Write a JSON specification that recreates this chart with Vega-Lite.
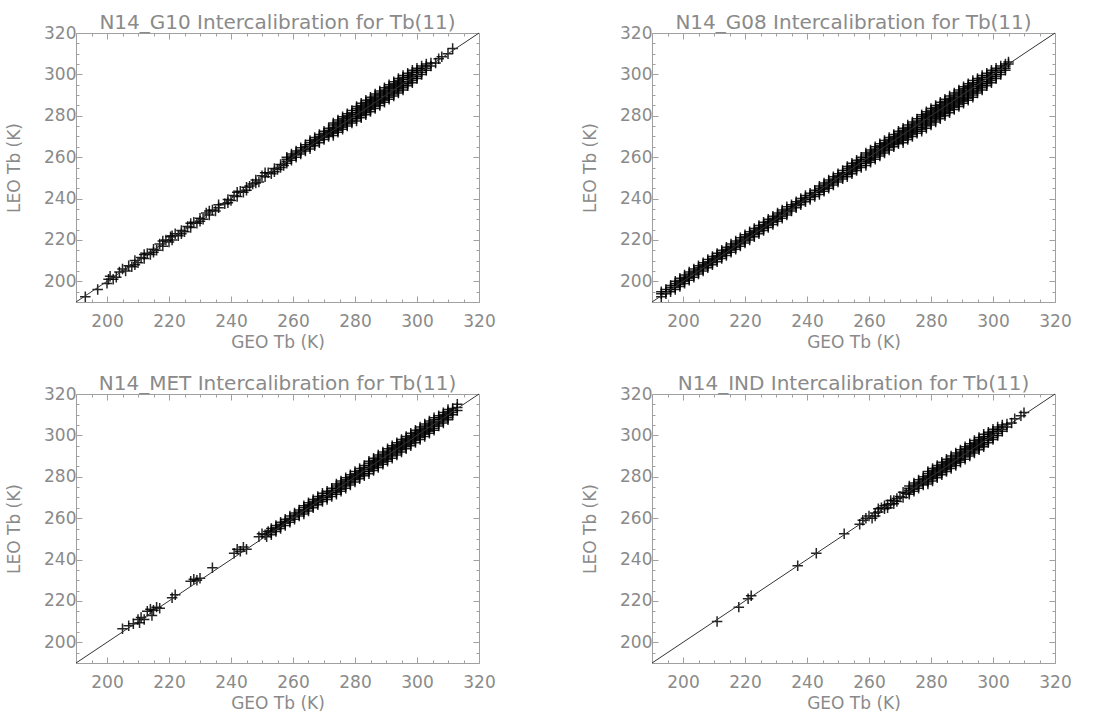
{
"$schema": "https://vega.github.io/schema/vega-lite/v6.json",
"padding": {"left": 5, "top": 13, "right": 5, "bottom": 5},
"background": "white",
"columns": 2,
"bounds": "flush",
"spacing": {"row": 92, "column": 173},
"config": {
  "view": {"stroke": null},
  "font": "DejaVu Sans",
  "title": {"fontSize": 20, "font": "DejaVu Sans", "fontWeight": "normal", "color": "#8a8a8a", "offset": -9, "anchor": "middle"},
  "axis": {"grid": false, "domainColor": "#a0a0a0", "tickColor": "#a0a0a0", "labelColor": "#8a8a8a", "titleColor": "#8a8a8a", "labelFont": "DejaVu Sans", "titleFont": "DejaVu Sans", "labelFontSize": 17, "titleFontSize": 17, "titleFontWeight": "normal", "labelOverlap": false, "labelFlush": false}
},
"datasets": {
"diag": [{"v": 190}, {"v": 320}],
"g10": [
{"geo":193,"leo":192.5},{"geo":197,"leo":196},{"geo":200,"leo":199},{"geo":200.5,"leo":201},{"geo":202,"leo":201},{"geo":204,"leo":204.5},{"geo":206,"leo":205},{"geo":207,"leo":207.5},{"geo":208,"leo":207},{"geo":209,"leo":210},{"geo":210,"leo":209},{"geo":211,"leo":211.5},{"geo":212,"leo":211},{"geo":213,"leo":213.5},{"geo":214,"leo":213},{"geo":215,"leo":215.5},{"geo":216,"leo":215},{"geo":217,"leo":218},{"geo":218,"leo":217},{"geo":219,"leo":220},{"geo":220,"leo":219},{"geo":220.5,"leo":221.5},{"geo":221,"leo":220},{"geo":222,"leo":223},{"geo":223,"leo":222},{"geo":224,"leo":224.5},{"geo":225,"leo":224},{"geo":226,"leo":226.5},{"geo":227,"leo":226},{"geo":228,"leo":228.5},{"geo":229,"leo":228},{"geo":230,"leo":230.5},{"geo":231,"leo":230},{"geo":232,"leo":233},{"geo":233,"leo":232},{"geo":234,"leo":234.5},{"geo":235,"leo":234},{"geo":236,"leo":237},{"geo":238,"leo":237.5},{"geo":239,"leo":239.5},{"geo":240,"leo":239},{"geo":241,"leo":241.5},{"geo":242,"leo":241},{"geo":243,"leo":243.5},{"geo":244,"leo":243},{"geo":245,"leo":245.5},{"geo":246,"leo":246},{"geo":247,"leo":247},{"geo":248,"leo":249},{"geo":249,"leo":248},{"geo":250,"leo":251},{"geo":251,"leo":250.5},{"geo":252,"leo":252.5},{"geo":253,"leo":252},{"geo":254,"leo":254.5},{"geo":255,"leo":254},{"geo":256,"leo":256.5},{"geo":257,"leo":256},
{"geo":201,"leo":202.5},{"geo":203,"leo":202},{"geo":205,"leo":206},{"geo":209,"leo":208},{"geo":212,"leo":213},{"geo":215,"leo":214},{"geo":218,"leo":219.5},{"geo":221,"leo":222},{"geo":224,"leo":223},{"geo":227,"leo":228},{"geo":230,"leo":229},{"geo":233,"leo":234},{"geo":236,"leo":235.5},{"geo":239,"leo":238},{"geo":242,"leo":243},{"geo":245,"leo":244},{"geo":248,"leo":247.5},{"geo":251,"leo":252.5},{"geo":254,"leo":253},{"geo":256,"leo":255},
{"geo":258,"leo":257},{"geo":258,"leo":258},{"geo":258,"leo":259},{"geo":258,"leo":260},
{"geo":259.5,"leo":258.5},{"geo":259.5,"leo":259.5},{"geo":259.5,"leo":260.5},{"geo":259.5,"leo":261.5},
{"geo":261,"leo":260},{"geo":261,"leo":261},{"geo":261,"leo":262},{"geo":261,"leo":263},
{"geo":262.5,"leo":261.5},{"geo":262.5,"leo":262.5},{"geo":262.5,"leo":263.5},{"geo":262.5,"leo":264.5},
{"geo":264,"leo":263},{"geo":264,"leo":264},{"geo":264,"leo":265},{"geo":264,"leo":266},
{"geo":265.5,"leo":264},{"geo":265.5,"leo":265},{"geo":265.5,"leo":266},{"geo":265.5,"leo":267},{"geo":265.5,"leo":268},
{"geo":267,"leo":265.5},{"geo":267,"leo":266.5},{"geo":267,"leo":267.5},{"geo":267,"leo":268.5},{"geo":267,"leo":269.5},
{"geo":268.5,"leo":267},{"geo":268.5,"leo":268},{"geo":268.5,"leo":269},{"geo":268.5,"leo":270},{"geo":268.5,"leo":271},
{"geo":270,"leo":268.5},{"geo":270,"leo":269.5},{"geo":270,"leo":270.5},{"geo":270,"leo":271.5},{"geo":270,"leo":272.5},
{"geo":271.5,"leo":270},{"geo":271.5,"leo":271},{"geo":271.5,"leo":272},{"geo":271.5,"leo":273},{"geo":271.5,"leo":274},
{"geo":273,"leo":270.5},{"geo":273,"leo":271.5},{"geo":273,"leo":272.5},{"geo":273,"leo":273.5},{"geo":273,"leo":274.5},{"geo":273,"leo":275.5},{"geo":273,"leo":276.5},
{"geo":274.5,"leo":272},{"geo":274.5,"leo":273},{"geo":274.5,"leo":274},{"geo":274.5,"leo":275},{"geo":274.5,"leo":276},{"geo":274.5,"leo":277},{"geo":274.5,"leo":278},
{"geo":276,"leo":273.5},{"geo":276,"leo":274.5},{"geo":276,"leo":275.5},{"geo":276,"leo":276.5},{"geo":276,"leo":277.5},{"geo":276,"leo":278.5},{"geo":276,"leo":279.5},
{"geo":277.5,"leo":275},{"geo":277.5,"leo":276},{"geo":277.5,"leo":277},{"geo":277.5,"leo":278},{"geo":277.5,"leo":279},{"geo":277.5,"leo":280},{"geo":277.5,"leo":281},
{"geo":279,"leo":276.5},{"geo":279,"leo":277.5},{"geo":279,"leo":278.5},{"geo":279,"leo":279.5},{"geo":279,"leo":280.5},{"geo":279,"leo":281.5},{"geo":279,"leo":282.5},
{"geo":280.5,"leo":277.5},{"geo":280.5,"leo":278.5},{"geo":280.5,"leo":279.5},{"geo":280.5,"leo":280.5},{"geo":280.5,"leo":281.5},{"geo":280.5,"leo":282.5},{"geo":280.5,"leo":283.5},{"geo":280.5,"leo":284.5},
{"geo":282,"leo":279},{"geo":282,"leo":280},{"geo":282,"leo":281},{"geo":282,"leo":282},{"geo":282,"leo":283},{"geo":282,"leo":284},{"geo":282,"leo":285},{"geo":282,"leo":286},
{"geo":283.5,"leo":280.5},{"geo":283.5,"leo":281.5},{"geo":283.5,"leo":282.5},{"geo":283.5,"leo":283.5},{"geo":283.5,"leo":284.5},{"geo":283.5,"leo":285.5},{"geo":283.5,"leo":286.5},{"geo":283.5,"leo":287.5},
{"geo":285,"leo":282},{"geo":285,"leo":283},{"geo":285,"leo":284},{"geo":285,"leo":285},{"geo":285,"leo":286},{"geo":285,"leo":287},{"geo":285,"leo":288},{"geo":285,"leo":289},
{"geo":286.5,"leo":283.5},{"geo":286.5,"leo":284.5},{"geo":286.5,"leo":285.5},{"geo":286.5,"leo":286.5},{"geo":286.5,"leo":287.5},{"geo":286.5,"leo":288.5},{"geo":286.5,"leo":289.5},{"geo":286.5,"leo":290.5},
{"geo":288,"leo":285},{"geo":288,"leo":286},{"geo":288,"leo":287},{"geo":288,"leo":288},{"geo":288,"leo":289},{"geo":288,"leo":290},{"geo":288,"leo":291},{"geo":288,"leo":292},
{"geo":289.5,"leo":286.5},{"geo":289.5,"leo":287.5},{"geo":289.5,"leo":288.5},{"geo":289.5,"leo":289.5},{"geo":289.5,"leo":290.5},{"geo":289.5,"leo":291.5},{"geo":289.5,"leo":292.5},{"geo":289.5,"leo":293.5},
{"geo":291,"leo":288},{"geo":291,"leo":289},{"geo":291,"leo":290},{"geo":291,"leo":291},{"geo":291,"leo":292},{"geo":291,"leo":293},{"geo":291,"leo":294},{"geo":291,"leo":295},
{"geo":292.5,"leo":289.5},{"geo":292.5,"leo":290.5},{"geo":292.5,"leo":291.5},{"geo":292.5,"leo":292.5},{"geo":292.5,"leo":293.5},{"geo":292.5,"leo":294.5},{"geo":292.5,"leo":295.5},{"geo":292.5,"leo":296.5},
{"geo":294,"leo":291},{"geo":294,"leo":292},{"geo":294,"leo":293},{"geo":294,"leo":294},{"geo":294,"leo":295},{"geo":294,"leo":296},{"geo":294,"leo":297},{"geo":294,"leo":298},
{"geo":295.5,"leo":292.5},{"geo":295.5,"leo":293.5},{"geo":295.5,"leo":294.5},{"geo":295.5,"leo":295.5},{"geo":295.5,"leo":296.5},{"geo":295.5,"leo":297.5},{"geo":295.5,"leo":298.5},{"geo":295.5,"leo":299.5},
{"geo":297,"leo":294.5},{"geo":297,"leo":295.5},{"geo":297,"leo":296.5},{"geo":297,"leo":297.5},{"geo":297,"leo":298.5},{"geo":297,"leo":299.5},{"geo":297,"leo":300.5},
{"geo":298.5,"leo":296},{"geo":298.5,"leo":297},{"geo":298.5,"leo":298},{"geo":298.5,"leo":299},{"geo":298.5,"leo":300},{"geo":298.5,"leo":301},{"geo":298.5,"leo":302},
{"geo":300,"leo":298},{"geo":300,"leo":299},{"geo":300,"leo":300},{"geo":300,"leo":301},{"geo":300,"leo":302},{"geo":300,"leo":303},
{"geo":301.5,"leo":300},{"geo":301.5,"leo":301},{"geo":301.5,"leo":302},{"geo":301.5,"leo":303},{"geo":301.5,"leo":304},
{"geo":303,"leo":302},{"geo":303,"leo":303},{"geo":303,"leo":304},{"geo":303,"leo":305},
{"geo":304.5,"leo":304},{"geo":304.5,"leo":305.5},
{"geo":306,"leo":305.5},{"geo":307,"leo":307.5},{"geo":308,"leo":308.5},{"geo":310,"leo":310},{"geo":311.5,"leo":312.5}
],
"g08": [
{"geo":193,"leo":192.5},{"geo":193,"leo":194},{"geo":193,"leo":195},
{"geo":194.5,"leo":194},{"geo":194.5,"leo":195},{"geo":194.5,"leo":196},
{"geo":196,"leo":195},{"geo":196,"leo":196},{"geo":196,"leo":197},{"geo":196,"leo":198},
{"geo":197.5,"leo":196},{"geo":197.5,"leo":197},{"geo":197.5,"leo":198},{"geo":197.5,"leo":199},{"geo":197.5,"leo":200},
{"geo":199,"leo":197.5},{"geo":199,"leo":198.5},{"geo":199,"leo":199.5},{"geo":199,"leo":200.5},{"geo":199,"leo":201.5},
{"geo":200.5,"leo":199},{"geo":200.5,"leo":200},{"geo":200.5,"leo":201},{"geo":200.5,"leo":202},{"geo":200.5,"leo":203},
{"geo":202,"leo":200.5},{"geo":202,"leo":201.5},{"geo":202,"leo":202.5},{"geo":202,"leo":203.5},{"geo":202,"leo":204.5},
{"geo":203.5,"leo":202},{"geo":203.5,"leo":203},{"geo":203.5,"leo":204},{"geo":203.5,"leo":205},{"geo":203.5,"leo":206},
{"geo":205,"leo":203.5},{"geo":205,"leo":204.5},{"geo":205,"leo":205.5},{"geo":205,"leo":206.5},{"geo":205,"leo":207.5},
{"geo":206.5,"leo":205},{"geo":206.5,"leo":206},{"geo":206.5,"leo":207},{"geo":206.5,"leo":208},{"geo":206.5,"leo":209},
{"geo":208,"leo":206.5},{"geo":208,"leo":207.5},{"geo":208,"leo":208.5},{"geo":208,"leo":209.5},{"geo":208,"leo":210.5},
{"geo":209.5,"leo":208},{"geo":209.5,"leo":209},{"geo":209.5,"leo":210},{"geo":209.5,"leo":211},{"geo":209.5,"leo":212},
{"geo":211,"leo":209.5},{"geo":211,"leo":210.5},{"geo":211,"leo":211.5},{"geo":211,"leo":212.5},{"geo":211,"leo":213.5},
{"geo":212.5,"leo":211},{"geo":212.5,"leo":212},{"geo":212.5,"leo":213},{"geo":212.5,"leo":214},{"geo":212.5,"leo":215},
{"geo":214,"leo":212.5},{"geo":214,"leo":213.5},{"geo":214,"leo":214.5},{"geo":214,"leo":215.5},{"geo":214,"leo":216.5},
{"geo":215.5,"leo":214},{"geo":215.5,"leo":215},{"geo":215.5,"leo":216},{"geo":215.5,"leo":217},{"geo":215.5,"leo":218},
{"geo":217,"leo":215.5},{"geo":217,"leo":216.5},{"geo":217,"leo":217.5},{"geo":217,"leo":218.5},{"geo":217,"leo":219.5},
{"geo":218.5,"leo":217},{"geo":218.5,"leo":218},{"geo":218.5,"leo":219},{"geo":218.5,"leo":220},{"geo":218.5,"leo":221},
{"geo":220,"leo":218.5},{"geo":220,"leo":219.5},{"geo":220,"leo":220.5},{"geo":220,"leo":221.5},{"geo":220,"leo":222.5},
{"geo":221.5,"leo":220},{"geo":221.5,"leo":221},{"geo":221.5,"leo":222},{"geo":221.5,"leo":223},{"geo":221.5,"leo":224},
{"geo":223,"leo":221.5},{"geo":223,"leo":222.5},{"geo":223,"leo":223.5},{"geo":223,"leo":224.5},{"geo":223,"leo":225.5},
{"geo":224.5,"leo":223},{"geo":224.5,"leo":224},{"geo":224.5,"leo":225},{"geo":224.5,"leo":226},{"geo":224.5,"leo":227},
{"geo":226,"leo":224.5},{"geo":226,"leo":225.5},{"geo":226,"leo":226.5},{"geo":226,"leo":227.5},{"geo":226,"leo":228.5},
{"geo":227.5,"leo":226},{"geo":227.5,"leo":227},{"geo":227.5,"leo":228},{"geo":227.5,"leo":229},{"geo":227.5,"leo":230},
{"geo":229,"leo":227.5},{"geo":229,"leo":228.5},{"geo":229,"leo":229.5},{"geo":229,"leo":230.5},{"geo":229,"leo":231.5},
{"geo":230.5,"leo":229},{"geo":230.5,"leo":230},{"geo":230.5,"leo":231},{"geo":230.5,"leo":232},{"geo":230.5,"leo":233},
{"geo":232,"leo":230.5},{"geo":232,"leo":231.5},{"geo":232,"leo":232.5},{"geo":232,"leo":233.5},{"geo":232,"leo":234.5},
{"geo":233.5,"leo":232},{"geo":233.5,"leo":233},{"geo":233.5,"leo":234},{"geo":233.5,"leo":235},{"geo":233.5,"leo":236},
{"geo":235,"leo":234},{"geo":235,"leo":235},{"geo":235,"leo":236},{"geo":235,"leo":237},
{"geo":236.5,"leo":235.5},{"geo":236.5,"leo":236.5},{"geo":236.5,"leo":237.5},{"geo":236.5,"leo":238.5},
{"geo":238,"leo":237},{"geo":238,"leo":238},{"geo":238,"leo":239},{"geo":238,"leo":240},
{"geo":239.5,"leo":238.5},{"geo":239.5,"leo":239.5},{"geo":239.5,"leo":240.5},{"geo":239.5,"leo":241.5},
{"geo":241,"leo":239.5},{"geo":241,"leo":240.5},{"geo":241,"leo":241.5},{"geo":241,"leo":242.5},
{"geo":242.5,"leo":241},{"geo":242.5,"leo":242},{"geo":242.5,"leo":243},{"geo":242.5,"leo":244},
{"geo":244,"leo":242},{"geo":244,"leo":243},{"geo":244,"leo":244},{"geo":244,"leo":245},{"geo":244,"leo":246},
{"geo":245.5,"leo":243.5},{"geo":245.5,"leo":244.5},{"geo":245.5,"leo":245.5},{"geo":245.5,"leo":246.5},{"geo":245.5,"leo":247.5},
{"geo":247,"leo":245},{"geo":247,"leo":246},{"geo":247,"leo":247},{"geo":247,"leo":248},{"geo":247,"leo":249},
{"geo":248.5,"leo":246.5},{"geo":248.5,"leo":247.5},{"geo":248.5,"leo":248.5},{"geo":248.5,"leo":249.5},{"geo":248.5,"leo":250.5},
{"geo":250,"leo":248},{"geo":250,"leo":249},{"geo":250,"leo":250},{"geo":250,"leo":251},{"geo":250,"leo":252},
{"geo":251.5,"leo":249.5},{"geo":251.5,"leo":250.5},{"geo":251.5,"leo":251.5},{"geo":251.5,"leo":252.5},{"geo":251.5,"leo":253.5},
{"geo":253,"leo":250.5},{"geo":253,"leo":251.5},{"geo":253,"leo":252.5},{"geo":253,"leo":253.5},{"geo":253,"leo":254.5},{"geo":253,"leo":255.5},
{"geo":254.5,"leo":252},{"geo":254.5,"leo":253},{"geo":254.5,"leo":254},{"geo":254.5,"leo":255},{"geo":254.5,"leo":256},{"geo":254.5,"leo":257},
{"geo":256,"leo":253.5},{"geo":256,"leo":254.5},{"geo":256,"leo":255.5},{"geo":256,"leo":256.5},{"geo":256,"leo":257.5},{"geo":256,"leo":258.5},
{"geo":257.5,"leo":255},{"geo":257.5,"leo":256},{"geo":257.5,"leo":257},{"geo":257.5,"leo":258},{"geo":257.5,"leo":259},{"geo":257.5,"leo":260},
{"geo":259,"leo":256},{"geo":259,"leo":257},{"geo":259,"leo":258},{"geo":259,"leo":259},{"geo":259,"leo":260},{"geo":259,"leo":261},{"geo":259,"leo":262},
{"geo":260.5,"leo":257.5},{"geo":260.5,"leo":258.5},{"geo":260.5,"leo":259.5},{"geo":260.5,"leo":260.5},{"geo":260.5,"leo":261.5},{"geo":260.5,"leo":262.5},{"geo":260.5,"leo":263.5},
{"geo":262,"leo":259},{"geo":262,"leo":260},{"geo":262,"leo":261},{"geo":262,"leo":262},{"geo":262,"leo":263},{"geo":262,"leo":264},{"geo":262,"leo":265},
{"geo":263.5,"leo":260.5},{"geo":263.5,"leo":261.5},{"geo":263.5,"leo":262.5},{"geo":263.5,"leo":263.5},{"geo":263.5,"leo":264.5},{"geo":263.5,"leo":265.5},{"geo":263.5,"leo":266.5},
{"geo":265,"leo":262},{"geo":265,"leo":263},{"geo":265,"leo":264},{"geo":265,"leo":265},{"geo":265,"leo":266},{"geo":265,"leo":267},{"geo":265,"leo":268},
{"geo":266.5,"leo":263.5},{"geo":266.5,"leo":264.5},{"geo":266.5,"leo":265.5},{"geo":266.5,"leo":266.5},{"geo":266.5,"leo":267.5},{"geo":266.5,"leo":268.5},{"geo":266.5,"leo":269.5},
{"geo":268,"leo":265},{"geo":268,"leo":266},{"geo":268,"leo":267},{"geo":268,"leo":268},{"geo":268,"leo":269},{"geo":268,"leo":270},{"geo":268,"leo":271},
{"geo":269.5,"leo":266.5},{"geo":269.5,"leo":267.5},{"geo":269.5,"leo":268.5},{"geo":269.5,"leo":269.5},{"geo":269.5,"leo":270.5},{"geo":269.5,"leo":271.5},{"geo":269.5,"leo":272.5},
{"geo":271,"leo":267},{"geo":271,"leo":268},{"geo":271,"leo":269},{"geo":271,"leo":270},{"geo":271,"leo":271},{"geo":271,"leo":272},{"geo":271,"leo":273},{"geo":271,"leo":274},
{"geo":272.5,"leo":268.5},{"geo":272.5,"leo":269.5},{"geo":272.5,"leo":270.5},{"geo":272.5,"leo":271.5},{"geo":272.5,"leo":272.5},{"geo":272.5,"leo":273.5},{"geo":272.5,"leo":274.5},{"geo":272.5,"leo":275.5},
{"geo":274,"leo":270},{"geo":274,"leo":271},{"geo":274,"leo":272},{"geo":274,"leo":273},{"geo":274,"leo":274},{"geo":274,"leo":275},{"geo":274,"leo":276},{"geo":274,"leo":277},
{"geo":275.5,"leo":271.5},{"geo":275.5,"leo":272.5},{"geo":275.5,"leo":273.5},{"geo":275.5,"leo":274.5},{"geo":275.5,"leo":275.5},{"geo":275.5,"leo":276.5},{"geo":275.5,"leo":277.5},{"geo":275.5,"leo":278.5},
{"geo":277,"leo":272.5},{"geo":277,"leo":273.5},{"geo":277,"leo":274.5},{"geo":277,"leo":275.5},{"geo":277,"leo":276.5},{"geo":277,"leo":277.5},{"geo":277,"leo":278.5},{"geo":277,"leo":279.5},{"geo":277,"leo":280.5},
{"geo":278.5,"leo":274},{"geo":278.5,"leo":275},{"geo":278.5,"leo":276},{"geo":278.5,"leo":277},{"geo":278.5,"leo":278},{"geo":278.5,"leo":279},{"geo":278.5,"leo":280},{"geo":278.5,"leo":281},{"geo":278.5,"leo":282},
{"geo":280,"leo":275.5},{"geo":280,"leo":276.5},{"geo":280,"leo":277.5},{"geo":280,"leo":278.5},{"geo":280,"leo":279.5},{"geo":280,"leo":280.5},{"geo":280,"leo":281.5},{"geo":280,"leo":282.5},{"geo":280,"leo":283.5},
{"geo":281.5,"leo":277},{"geo":281.5,"leo":278},{"geo":281.5,"leo":279},{"geo":281.5,"leo":280},{"geo":281.5,"leo":281},{"geo":281.5,"leo":282},{"geo":281.5,"leo":283},{"geo":281.5,"leo":284},{"geo":281.5,"leo":285},
{"geo":283,"leo":278.5},{"geo":283,"leo":279.5},{"geo":283,"leo":280.5},{"geo":283,"leo":281.5},{"geo":283,"leo":282.5},{"geo":283,"leo":283.5},{"geo":283,"leo":284.5},{"geo":283,"leo":285.5},{"geo":283,"leo":286.5},
{"geo":284.5,"leo":280},{"geo":284.5,"leo":281},{"geo":284.5,"leo":282},{"geo":284.5,"leo":283},{"geo":284.5,"leo":284},{"geo":284.5,"leo":285},{"geo":284.5,"leo":286},{"geo":284.5,"leo":287},{"geo":284.5,"leo":288},
{"geo":286,"leo":281.5},{"geo":286,"leo":282.5},{"geo":286,"leo":283.5},{"geo":286,"leo":284.5},{"geo":286,"leo":285.5},{"geo":286,"leo":286.5},{"geo":286,"leo":287.5},{"geo":286,"leo":288.5},{"geo":286,"leo":289.5},
{"geo":287.5,"leo":283},{"geo":287.5,"leo":284},{"geo":287.5,"leo":285},{"geo":287.5,"leo":286},{"geo":287.5,"leo":287},{"geo":287.5,"leo":288},{"geo":287.5,"leo":289},{"geo":287.5,"leo":290},{"geo":287.5,"leo":291},
{"geo":289,"leo":284.5},{"geo":289,"leo":285.5},{"geo":289,"leo":286.5},{"geo":289,"leo":287.5},{"geo":289,"leo":288.5},{"geo":289,"leo":289.5},{"geo":289,"leo":290.5},{"geo":289,"leo":291.5},{"geo":289,"leo":292.5},
{"geo":290.5,"leo":286},{"geo":290.5,"leo":287},{"geo":290.5,"leo":288},{"geo":290.5,"leo":289},{"geo":290.5,"leo":290},{"geo":290.5,"leo":291},{"geo":290.5,"leo":292},{"geo":290.5,"leo":293},{"geo":290.5,"leo":294},
{"geo":292,"leo":287.5},{"geo":292,"leo":288.5},{"geo":292,"leo":289.5},{"geo":292,"leo":290.5},{"geo":292,"leo":291.5},{"geo":292,"leo":292.5},{"geo":292,"leo":293.5},{"geo":292,"leo":294.5},{"geo":292,"leo":295.5},
{"geo":293.5,"leo":289},{"geo":293.5,"leo":290},{"geo":293.5,"leo":291},{"geo":293.5,"leo":292},{"geo":293.5,"leo":293},{"geo":293.5,"leo":294},{"geo":293.5,"leo":295},{"geo":293.5,"leo":296},{"geo":293.5,"leo":297},
{"geo":295,"leo":291},{"geo":295,"leo":292},{"geo":295,"leo":293},{"geo":295,"leo":294},{"geo":295,"leo":295},{"geo":295,"leo":296},{"geo":295,"leo":297},{"geo":295,"leo":298},
{"geo":296.5,"leo":292.5},{"geo":296.5,"leo":293.5},{"geo":296.5,"leo":294.5},{"geo":296.5,"leo":295.5},{"geo":296.5,"leo":296.5},{"geo":296.5,"leo":297.5},{"geo":296.5,"leo":298.5},{"geo":296.5,"leo":299.5},
{"geo":298,"leo":294.5},{"geo":298,"leo":295.5},{"geo":298,"leo":296.5},{"geo":298,"leo":297.5},{"geo":298,"leo":298.5},{"geo":298,"leo":299.5},{"geo":298,"leo":300.5},
{"geo":299.5,"leo":296},{"geo":299.5,"leo":297},{"geo":299.5,"leo":298},{"geo":299.5,"leo":299},{"geo":299.5,"leo":300},{"geo":299.5,"leo":301},{"geo":299.5,"leo":302},
{"geo":301,"leo":298},{"geo":301,"leo":299},{"geo":301,"leo":300},{"geo":301,"leo":301},{"geo":301,"leo":302},{"geo":301,"leo":303},
{"geo":302.5,"leo":300},{"geo":302.5,"leo":301},{"geo":302.5,"leo":302},{"geo":302.5,"leo":303},{"geo":302.5,"leo":304},
{"geo":304,"leo":302},{"geo":304,"leo":303},{"geo":304,"leo":304},{"geo":304,"leo":305},
{"geo":305,"leo":305},{"geo":305,"leo":306}
],
"met": [
{"geo":205,"leo":206.5},{"geo":207,"leo":208},{"geo":208.5,"leo":209},{"geo":210,"leo":211},{"geo":210.5,"leo":209.5},{"geo":211,"leo":212},{"geo":212,"leo":211},{"geo":213,"leo":215},{"geo":214,"leo":216},{"geo":215,"leo":215.5},{"geo":214.5,"leo":213},{"geo":216,"leo":217},{"geo":217,"leo":216.5},{"geo":222,"leo":223},{"geo":221,"leo":221.5},{"geo":227,"leo":229.5},{"geo":228,"leo":230.5},{"geo":229,"leo":230},{"geo":230,"leo":231},{"geo":234,"leo":236},{"geo":241,"leo":243},{"geo":242,"leo":245},{"geo":243,"leo":244},{"geo":244,"leo":246},{"geo":245,"leo":245},{"geo":249,"leo":251},{"geo":250,"leo":252.5},{"geo":251,"leo":252},{"geo":252,"leo":253.5},{"geo":251.5,"leo":251},
{"geo":253,"leo":252},{"geo":253,"leo":253},{"geo":253,"leo":254},{"geo":253,"leo":255},
{"geo":254.5,"leo":253.5},{"geo":254.5,"leo":254.5},{"geo":254.5,"leo":255.5},{"geo":254.5,"leo":256.5},
{"geo":256,"leo":255},{"geo":256,"leo":256},{"geo":256,"leo":257},{"geo":256,"leo":258},
{"geo":257.5,"leo":256.5},{"geo":257.5,"leo":257.5},{"geo":257.5,"leo":258.5},{"geo":257.5,"leo":259.5},
{"geo":259,"leo":258},{"geo":259,"leo":259},{"geo":259,"leo":260},{"geo":259,"leo":261},
{"geo":260.5,"leo":259.5},{"geo":260.5,"leo":260.5},{"geo":260.5,"leo":261.5},{"geo":260.5,"leo":262.5},
{"geo":262,"leo":261},{"geo":262,"leo":262},{"geo":262,"leo":263},{"geo":262,"leo":264},
{"geo":263.5,"leo":262},{"geo":263.5,"leo":263},{"geo":263.5,"leo":264},{"geo":263.5,"leo":265},{"geo":263.5,"leo":266},
{"geo":265,"leo":263.5},{"geo":265,"leo":264.5},{"geo":265,"leo":265.5},{"geo":265,"leo":266.5},{"geo":265,"leo":267.5},
{"geo":266.5,"leo":265},{"geo":266.5,"leo":266},{"geo":266.5,"leo":267},{"geo":266.5,"leo":268},{"geo":266.5,"leo":269},
{"geo":268,"leo":266.5},{"geo":268,"leo":267.5},{"geo":268,"leo":268.5},{"geo":268,"leo":269.5},{"geo":268,"leo":270.5},
{"geo":269.5,"leo":268},{"geo":269.5,"leo":269},{"geo":269.5,"leo":270},{"geo":269.5,"leo":271},{"geo":269.5,"leo":272},
{"geo":271,"leo":269},{"geo":271,"leo":270},{"geo":271,"leo":271},{"geo":271,"leo":272},{"geo":271,"leo":273},
{"geo":272.5,"leo":270.5},{"geo":272.5,"leo":271.5},{"geo":272.5,"leo":272.5},{"geo":272.5,"leo":273.5},{"geo":272.5,"leo":274.5},
{"geo":274,"leo":271.5},{"geo":274,"leo":272.5},{"geo":274,"leo":273.5},{"geo":274,"leo":274.5},{"geo":274,"leo":275.5},{"geo":274,"leo":276.5},
{"geo":275.5,"leo":273},{"geo":275.5,"leo":274},{"geo":275.5,"leo":275},{"geo":275.5,"leo":276},{"geo":275.5,"leo":277},{"geo":275.5,"leo":278},
{"geo":277,"leo":274.5},{"geo":277,"leo":275.5},{"geo":277,"leo":276.5},{"geo":277,"leo":277.5},{"geo":277,"leo":278.5},{"geo":277,"leo":279.5},
{"geo":278.5,"leo":276},{"geo":278.5,"leo":277},{"geo":278.5,"leo":278},{"geo":278.5,"leo":279},{"geo":278.5,"leo":280},{"geo":278.5,"leo":281},
{"geo":280,"leo":277.5},{"geo":280,"leo":278.5},{"geo":280,"leo":279.5},{"geo":280,"leo":280.5},{"geo":280,"leo":281.5},{"geo":280,"leo":282.5},
{"geo":281.5,"leo":279},{"geo":281.5,"leo":280},{"geo":281.5,"leo":281},{"geo":281.5,"leo":282},{"geo":281.5,"leo":283},{"geo":281.5,"leo":284},
{"geo":283,"leo":280.5},{"geo":283,"leo":281.5},{"geo":283,"leo":282.5},{"geo":283,"leo":283.5},{"geo":283,"leo":284.5},{"geo":283,"leo":285.5},
{"geo":284.5,"leo":281.5},{"geo":284.5,"leo":282.5},{"geo":284.5,"leo":283.5},{"geo":284.5,"leo":284.5},{"geo":284.5,"leo":285.5},{"geo":284.5,"leo":286.5},{"geo":284.5,"leo":287.5},
{"geo":286,"leo":283},{"geo":286,"leo":284},{"geo":286,"leo":285},{"geo":286,"leo":286},{"geo":286,"leo":287},{"geo":286,"leo":288},{"geo":286,"leo":289},
{"geo":287.5,"leo":284.5},{"geo":287.5,"leo":285.5},{"geo":287.5,"leo":286.5},{"geo":287.5,"leo":287.5},{"geo":287.5,"leo":288.5},{"geo":287.5,"leo":289.5},{"geo":287.5,"leo":290.5},
{"geo":289,"leo":286},{"geo":289,"leo":287},{"geo":289,"leo":288},{"geo":289,"leo":289},{"geo":289,"leo":290},{"geo":289,"leo":291},{"geo":289,"leo":292},
{"geo":290.5,"leo":287.5},{"geo":290.5,"leo":288.5},{"geo":290.5,"leo":289.5},{"geo":290.5,"leo":290.5},{"geo":290.5,"leo":291.5},{"geo":290.5,"leo":292.5},{"geo":290.5,"leo":293.5},
{"geo":292,"leo":289},{"geo":292,"leo":290},{"geo":292,"leo":291},{"geo":292,"leo":292},{"geo":292,"leo":293},{"geo":292,"leo":294},{"geo":292,"leo":295},
{"geo":293.5,"leo":290.5},{"geo":293.5,"leo":291.5},{"geo":293.5,"leo":292.5},{"geo":293.5,"leo":293.5},{"geo":293.5,"leo":294.5},{"geo":293.5,"leo":295.5},{"geo":293.5,"leo":296.5},
{"geo":295,"leo":292},{"geo":295,"leo":293},{"geo":295,"leo":294},{"geo":295,"leo":295},{"geo":295,"leo":296},{"geo":295,"leo":297},{"geo":295,"leo":298},
{"geo":296.5,"leo":293.5},{"geo":296.5,"leo":294.5},{"geo":296.5,"leo":295.5},{"geo":296.5,"leo":296.5},{"geo":296.5,"leo":297.5},{"geo":296.5,"leo":298.5},{"geo":296.5,"leo":299.5},
{"geo":298,"leo":295},{"geo":298,"leo":296},{"geo":298,"leo":297},{"geo":298,"leo":298},{"geo":298,"leo":299},{"geo":298,"leo":300},{"geo":298,"leo":301},
{"geo":299.5,"leo":296.5},{"geo":299.5,"leo":297.5},{"geo":299.5,"leo":298.5},{"geo":299.5,"leo":299.5},{"geo":299.5,"leo":300.5},{"geo":299.5,"leo":301.5},{"geo":299.5,"leo":302.5},
{"geo":301,"leo":298},{"geo":301,"leo":299},{"geo":301,"leo":300},{"geo":301,"leo":301},{"geo":301,"leo":302},{"geo":301,"leo":303},{"geo":301,"leo":304},
{"geo":302.5,"leo":299.5},{"geo":302.5,"leo":300.5},{"geo":302.5,"leo":301.5},{"geo":302.5,"leo":302.5},{"geo":302.5,"leo":303.5},{"geo":302.5,"leo":304.5},{"geo":302.5,"leo":305.5},
{"geo":304,"leo":301},{"geo":304,"leo":302},{"geo":304,"leo":303},{"geo":304,"leo":304},{"geo":304,"leo":305},{"geo":304,"leo":306},{"geo":304,"leo":307},
{"geo":305.5,"leo":302.5},{"geo":305.5,"leo":303.5},{"geo":305.5,"leo":304.5},{"geo":305.5,"leo":305.5},{"geo":305.5,"leo":306.5},{"geo":305.5,"leo":307.5},{"geo":305.5,"leo":308.5},
{"geo":307,"leo":304.5},{"geo":307,"leo":305.5},{"geo":307,"leo":306.5},{"geo":307,"leo":307.5},{"geo":307,"leo":308.5},{"geo":307,"leo":309.5},
{"geo":308.5,"leo":306},{"geo":308.5,"leo":307},{"geo":308.5,"leo":308},{"geo":308.5,"leo":309},{"geo":308.5,"leo":310},{"geo":308.5,"leo":311},
{"geo":310,"leo":307.5},{"geo":310,"leo":308.5},{"geo":310,"leo":309.5},{"geo":310,"leo":310.5},{"geo":310,"leo":311.5},{"geo":310,"leo":312.5},
{"geo":311.5,"leo":310},{"geo":311.5,"leo":311},{"geo":311.5,"leo":312},{"geo":311.5,"leo":313},
{"geo":313,"leo":312},{"geo":313,"leo":313.5},{"geo":313,"leo":315}
],
"ind": [
{"geo":211,"leo":210},{"geo":218,"leo":217},{"geo":222,"leo":222.5},{"geo":221,"leo":221},{"geo":237,"leo":237},{"geo":243,"leo":243},{"geo":252,"leo":252.5},{"geo":257,"leo":257},{"geo":258,"leo":259},{"geo":259,"leo":260},{"geo":260,"leo":261},{"geo":261,"leo":260},{"geo":262,"leo":262.5},{"geo":263,"leo":263},{"geo":264,"leo":265},{"geo":265,"leo":264.5},{"geo":266,"leo":266.5},{"geo":267,"leo":267},{"geo":268,"leo":268.5},{"geo":269,"leo":268},{"geo":270,"leo":270.5},{"geo":271,"leo":270},{"geo":272,"leo":272},
{"geo":263,"leo":264.5},{"geo":265,"leo":266},{"geo":267,"leo":268.5},{"geo":269,"leo":269.5},{"geo":271,"leo":272.5},{"geo":262,"leo":261},{"geo":266,"leo":265},{"geo":268,"leo":267},
{"geo":273,"leo":271.5},{"geo":273,"leo":272.5},{"geo":273,"leo":273.5},{"geo":273,"leo":274.5},{"geo":273,"leo":275.5},
{"geo":274.5,"leo":273},{"geo":274.5,"leo":274},{"geo":274.5,"leo":275},{"geo":274.5,"leo":276},{"geo":274.5,"leo":277},
{"geo":276,"leo":274.5},{"geo":276,"leo":275.5},{"geo":276,"leo":276.5},{"geo":276,"leo":277.5},{"geo":276,"leo":278.5},
{"geo":277.5,"leo":276},{"geo":277.5,"leo":277},{"geo":277.5,"leo":278},{"geo":277.5,"leo":279},{"geo":277.5,"leo":280},
{"geo":279,"leo":276.5},{"geo":279,"leo":277.5},{"geo":279,"leo":278.5},{"geo":279,"leo":279.5},{"geo":279,"leo":280.5},{"geo":279,"leo":281.5},{"geo":279,"leo":282.5},
{"geo":280.5,"leo":278},{"geo":280.5,"leo":279},{"geo":280.5,"leo":280},{"geo":280.5,"leo":281},{"geo":280.5,"leo":282},{"geo":280.5,"leo":283},{"geo":280.5,"leo":284},
{"geo":282,"leo":279.5},{"geo":282,"leo":280.5},{"geo":282,"leo":281.5},{"geo":282,"leo":282.5},{"geo":282,"leo":283.5},{"geo":282,"leo":284.5},{"geo":282,"leo":285.5},
{"geo":283.5,"leo":281},{"geo":283.5,"leo":282},{"geo":283.5,"leo":283},{"geo":283.5,"leo":284},{"geo":283.5,"leo":285},{"geo":283.5,"leo":286},{"geo":283.5,"leo":287},
{"geo":285,"leo":282.5},{"geo":285,"leo":283.5},{"geo":285,"leo":284.5},{"geo":285,"leo":285.5},{"geo":285,"leo":286.5},{"geo":285,"leo":287.5},{"geo":285,"leo":288.5},
{"geo":286.5,"leo":284},{"geo":286.5,"leo":285},{"geo":286.5,"leo":286},{"geo":286.5,"leo":287},{"geo":286.5,"leo":288},{"geo":286.5,"leo":289},{"geo":286.5,"leo":290},
{"geo":288,"leo":285.5},{"geo":288,"leo":286.5},{"geo":288,"leo":287.5},{"geo":288,"leo":288.5},{"geo":288,"leo":289.5},{"geo":288,"leo":290.5},{"geo":288,"leo":291.5},
{"geo":289.5,"leo":287},{"geo":289.5,"leo":288},{"geo":289.5,"leo":289},{"geo":289.5,"leo":290},{"geo":289.5,"leo":291},{"geo":289.5,"leo":292},{"geo":289.5,"leo":293},
{"geo":291,"leo":288.5},{"geo":291,"leo":289.5},{"geo":291,"leo":290.5},{"geo":291,"leo":291.5},{"geo":291,"leo":292.5},{"geo":291,"leo":293.5},{"geo":291,"leo":294.5},
{"geo":292.5,"leo":290},{"geo":292.5,"leo":291},{"geo":292.5,"leo":292},{"geo":292.5,"leo":293},{"geo":292.5,"leo":294},{"geo":292.5,"leo":295},{"geo":292.5,"leo":296},
{"geo":294,"leo":291.5},{"geo":294,"leo":292.5},{"geo":294,"leo":293.5},{"geo":294,"leo":294.5},{"geo":294,"leo":295.5},{"geo":294,"leo":296.5},{"geo":294,"leo":297.5},
{"geo":295.5,"leo":293},{"geo":295.5,"leo":294},{"geo":295.5,"leo":295},{"geo":295.5,"leo":296},{"geo":295.5,"leo":297},{"geo":295.5,"leo":298},{"geo":295.5,"leo":299},
{"geo":297,"leo":294.5},{"geo":297,"leo":295.5},{"geo":297,"leo":296.5},{"geo":297,"leo":297.5},{"geo":297,"leo":298.5},{"geo":297,"leo":299.5},{"geo":297,"leo":300.5},
{"geo":298.5,"leo":296.5},{"geo":298.5,"leo":297.5},{"geo":298.5,"leo":298.5},{"geo":298.5,"leo":299.5},{"geo":298.5,"leo":300.5},{"geo":298.5,"leo":301.5},
{"geo":300,"leo":298},{"geo":300,"leo":299},{"geo":300,"leo":300},{"geo":300,"leo":301},{"geo":300,"leo":302},{"geo":300,"leo":303},
{"geo":301.5,"leo":300},{"geo":301.5,"leo":301},{"geo":301.5,"leo":302},{"geo":301.5,"leo":303},{"geo":301.5,"leo":304},
{"geo":303,"leo":302},{"geo":303,"leo":303},{"geo":303,"leo":304},{"geo":303,"leo":305},
{"geo":304.5,"leo":304},{"geo":304.5,"leo":305.5},
{"geo":306,"leo":306},{"geo":307,"leo":308},{"geo":309,"leo":309.5},{"geo":310,"leo":311}
]
},
"concat": [
  {"title": "N14_G10 Intercalibration for Tb(11)", "width": 403, "height": 269,
   "layer": [
    {"data": {"name": "g10"}, "mark": {"type": "point", "shape": "M-1,0L1,0M0,-1L0,1", "size": 110, "filled": false, "stroke": "#000", "strokeWidth": 1.5, "opacity": 0.85},
     "encoding": {
      "x": {"field": "geo", "type": "quantitative", "scale": {"domain": [190, 320], "nice": false, "zero": false}, "axis": {"orient": "bottom", "title": "GEO Tb (K)", "values": [190,195,200,205,210,215,220,225,230,235,240,245,250,255,260,265,270,275,280,285,290,295,300,305,310,315,320], "labelExpr": "datum.value % 20 == 0 ? datum.label : ''", "tickSize": {"condition": {"test": "datum.value % 20 == 0", "value": -6}, "value": -3}, "labelPadding": 17, "titlePadding": 2}},
      "y": {"field": "leo", "type": "quantitative", "scale": {"domain": [190, 320], "nice": false, "zero": false}, "axis": {"orient": "left", "title": "LEO Tb (K)", "values": [190,195,200,205,210,215,220,225,230,235,240,245,250,255,260,265,270,275,280,285,290,295,300,305,310,315,320], "labelExpr": "datum.value % 20 == 0 ? datum.label : ''", "tickSize": {"condition": {"test": "datum.value % 20 == 0", "value": -6}, "value": -3}, "labelPadding": 6, "titlePadding": 20}}
     }},
    {"data": {"name": "diag"}, "mark": {"type": "line", "color": "#333", "strokeWidth": 1},
     "encoding": {
      "x": {"field": "v", "type": "quantitative", "scale": {"domain": [190, 320], "nice": false, "zero": false}, "axis": {"orient": "top", "title": null, "labels": false, "values": [190,195,200,205,210,215,220,225,230,235,240,245,250,255,260,265,270,275,280,285,290,295,300,305,310,315,320], "tickSize": {"condition": {"test": "datum.value % 20 == 0", "value": -6}, "value": -3}}},
      "y": {"field": "v", "type": "quantitative", "scale": {"domain": [190, 320], "nice": false, "zero": false}, "axis": {"orient": "right", "title": null, "labels": false, "values": [190,195,200,205,210,215,220,225,230,235,240,245,250,255,260,265,270,275,280,285,290,295,300,305,310,315,320], "tickSize": {"condition": {"test": "datum.value % 20 == 0", "value": -6}, "value": -3}}}
     }}
   ],
   "resolve": {"axis": {"x": "independent", "y": "independent"}}
  },
  {"title": "N14_G08 Intercalibration for Tb(11)", "width": 403, "height": 269,
   "layer": [
    {"data": {"name": "g08"}, "mark": {"type": "point", "shape": "M-1,0L1,0M0,-1L0,1", "size": 110, "filled": false, "stroke": "#000", "strokeWidth": 1.5, "opacity": 0.85},
     "encoding": {
      "x": {"field": "geo", "type": "quantitative", "scale": {"domain": [190, 320], "nice": false, "zero": false}, "axis": {"orient": "bottom", "title": "GEO Tb (K)", "values": [190,195,200,205,210,215,220,225,230,235,240,245,250,255,260,265,270,275,280,285,290,295,300,305,310,315,320], "labelExpr": "datum.value % 20 == 0 ? datum.label : ''", "tickSize": {"condition": {"test": "datum.value % 20 == 0", "value": -6}, "value": -3}, "labelPadding": 17, "titlePadding": 2}},
      "y": {"field": "leo", "type": "quantitative", "scale": {"domain": [190, 320], "nice": false, "zero": false}, "axis": {"orient": "left", "title": "LEO Tb (K)", "values": [190,195,200,205,210,215,220,225,230,235,240,245,250,255,260,265,270,275,280,285,290,295,300,305,310,315,320], "labelExpr": "datum.value % 20 == 0 ? datum.label : ''", "tickSize": {"condition": {"test": "datum.value % 20 == 0", "value": -6}, "value": -3}, "labelPadding": 6, "titlePadding": 20}}
     }},
    {"data": {"name": "diag"}, "mark": {"type": "line", "color": "#333", "strokeWidth": 1},
     "encoding": {
      "x": {"field": "v", "type": "quantitative", "scale": {"domain": [190, 320], "nice": false, "zero": false}, "axis": {"orient": "top", "title": null, "labels": false, "values": [190,195,200,205,210,215,220,225,230,235,240,245,250,255,260,265,270,275,280,285,290,295,300,305,310,315,320], "tickSize": {"condition": {"test": "datum.value % 20 == 0", "value": -6}, "value": -3}}},
      "y": {"field": "v", "type": "quantitative", "scale": {"domain": [190, 320], "nice": false, "zero": false}, "axis": {"orient": "right", "title": null, "labels": false, "values": [190,195,200,205,210,215,220,225,230,235,240,245,250,255,260,265,270,275,280,285,290,295,300,305,310,315,320], "tickSize": {"condition": {"test": "datum.value % 20 == 0", "value": -6}, "value": -3}}}
     }}
   ],
   "resolve": {"axis": {"x": "independent", "y": "independent"}}
  },
  {"title": "N14_MET Intercalibration for Tb(11)", "width": 403, "height": 269,
   "layer": [
    {"data": {"name": "met"}, "mark": {"type": "point", "shape": "M-1,0L1,0M0,-1L0,1", "size": 110, "filled": false, "stroke": "#000", "strokeWidth": 1.5, "opacity": 0.85},
     "encoding": {
      "x": {"field": "geo", "type": "quantitative", "scale": {"domain": [190, 320], "nice": false, "zero": false}, "axis": {"orient": "bottom", "title": "GEO Tb (K)", "values": [190,195,200,205,210,215,220,225,230,235,240,245,250,255,260,265,270,275,280,285,290,295,300,305,310,315,320], "labelExpr": "datum.value % 20 == 0 ? datum.label : ''", "tickSize": {"condition": {"test": "datum.value % 20 == 0", "value": -6}, "value": -3}, "labelPadding": 17, "titlePadding": 2}},
      "y": {"field": "leo", "type": "quantitative", "scale": {"domain": [190, 320], "nice": false, "zero": false}, "axis": {"orient": "left", "title": "LEO Tb (K)", "values": [190,195,200,205,210,215,220,225,230,235,240,245,250,255,260,265,270,275,280,285,290,295,300,305,310,315,320], "labelExpr": "datum.value % 20 == 0 ? datum.label : ''", "tickSize": {"condition": {"test": "datum.value % 20 == 0", "value": -6}, "value": -3}, "labelPadding": 6, "titlePadding": 20}}
     }},
    {"data": {"name": "diag"}, "mark": {"type": "line", "color": "#333", "strokeWidth": 1},
     "encoding": {
      "x": {"field": "v", "type": "quantitative", "scale": {"domain": [190, 320], "nice": false, "zero": false}, "axis": {"orient": "top", "title": null, "labels": false, "values": [190,195,200,205,210,215,220,225,230,235,240,245,250,255,260,265,270,275,280,285,290,295,300,305,310,315,320], "tickSize": {"condition": {"test": "datum.value % 20 == 0", "value": -6}, "value": -3}}},
      "y": {"field": "v", "type": "quantitative", "scale": {"domain": [190, 320], "nice": false, "zero": false}, "axis": {"orient": "right", "title": null, "labels": false, "values": [190,195,200,205,210,215,220,225,230,235,240,245,250,255,260,265,270,275,280,285,290,295,300,305,310,315,320], "tickSize": {"condition": {"test": "datum.value % 20 == 0", "value": -6}, "value": -3}}}
     }}
   ],
   "resolve": {"axis": {"x": "independent", "y": "independent"}}
  },
  {"title": "N14_IND Intercalibration for Tb(11)", "width": 403, "height": 269,
   "layer": [
    {"data": {"name": "ind"}, "mark": {"type": "point", "shape": "M-1,0L1,0M0,-1L0,1", "size": 110, "filled": false, "stroke": "#000", "strokeWidth": 1.5, "opacity": 0.85},
     "encoding": {
      "x": {"field": "geo", "type": "quantitative", "scale": {"domain": [190, 320], "nice": false, "zero": false}, "axis": {"orient": "bottom", "title": "GEO Tb (K)", "values": [190,195,200,205,210,215,220,225,230,235,240,245,250,255,260,265,270,275,280,285,290,295,300,305,310,315,320], "labelExpr": "datum.value % 20 == 0 ? datum.label : ''", "tickSize": {"condition": {"test": "datum.value % 20 == 0", "value": -6}, "value": -3}, "labelPadding": 17, "titlePadding": 2}},
      "y": {"field": "leo", "type": "quantitative", "scale": {"domain": [190, 320], "nice": false, "zero": false}, "axis": {"orient": "left", "title": "LEO Tb (K)", "values": [190,195,200,205,210,215,220,225,230,235,240,245,250,255,260,265,270,275,280,285,290,295,300,305,310,315,320], "labelExpr": "datum.value % 20 == 0 ? datum.label : ''", "tickSize": {"condition": {"test": "datum.value % 20 == 0", "value": -6}, "value": -3}, "labelPadding": 6, "titlePadding": 20}}
     }},
    {"data": {"name": "diag"}, "mark": {"type": "line", "color": "#333", "strokeWidth": 1},
     "encoding": {
      "x": {"field": "v", "type": "quantitative", "scale": {"domain": [190, 320], "nice": false, "zero": false}, "axis": {"orient": "top", "title": null, "labels": false, "values": [190,195,200,205,210,215,220,225,230,235,240,245,250,255,260,265,270,275,280,285,290,295,300,305,310,315,320], "tickSize": {"condition": {"test": "datum.value % 20 == 0", "value": -6}, "value": -3}}},
      "y": {"field": "v", "type": "quantitative", "scale": {"domain": [190, 320], "nice": false, "zero": false}, "axis": {"orient": "right", "title": null, "labels": false, "values": [190,195,200,205,210,215,220,225,230,235,240,245,250,255,260,265,270,275,280,285,290,295,300,305,310,315,320], "tickSize": {"condition": {"test": "datum.value % 20 == 0", "value": -6}, "value": -3}}}
     }}
   ],
   "resolve": {"axis": {"x": "independent", "y": "independent"}}
  }
]
}
